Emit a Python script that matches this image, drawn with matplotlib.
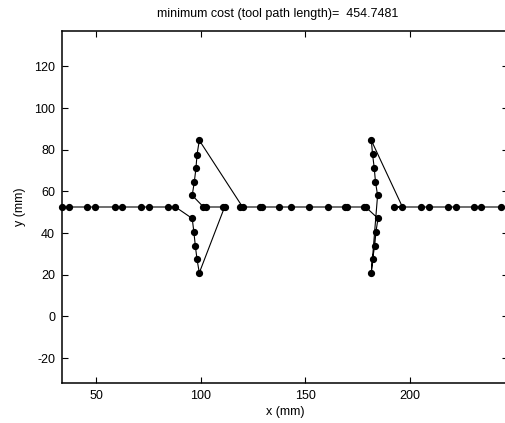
import matplotlib
matplotlib.use("Agg")
import matplotlib.pyplot as plt

plt.rcParams['font.family'] = ['Liberation Sans', 'DejaVu Sans']
plt.rcParams['axes.unicode_minus'] = False

# Tool path (visiting order), x and y in mm
path_x = [33.6, 37.1, 45.8, 49.5, 58.8, 62.1, 71.5, 75.0, 84.1, 87.9,
          95.9, 96.7, 97.4, 98.2, 99.3,
          111.4, 110.4, 102.5, 101.3,
          95.9, 96.9, 97.7, 98.2, 99.3,
          120.0, 118.9, 128.1, 129.3, 137.2, 143.2, 151.9, 160.7, 169.1, 169.9, 177.9, 178.9,
          184.8, 183.8, 183.2, 182.2, 181.6,
          184.6, 183.6, 183.0, 182.2, 181.6,
          196.5, 192.6, 205.5, 209.3, 218.1, 222.0, 230.7, 233.9, 243.6]
path_y = [52.5, 52.5, 52.5, 52.5, 52.5, 52.5, 52.5, 52.5, 52.5, 52.5,
          47.0, 40.5, 33.8, 27.4, 20.9,
          52.5, 52.5, 52.5, 52.5,
          58.1, 64.5, 71.2, 77.6, 84.5,
          52.5, 52.5, 52.5, 52.5, 52.5, 52.5, 52.5, 52.5, 52.5, 52.5, 52.5, 52.5,
          47.0, 40.5, 33.8, 27.4, 20.9,
          58.1, 64.5, 71.2, 77.8, 84.5,
          52.5, 52.5, 52.5, 52.5, 52.5, 52.5, 52.5, 52.5, 52.5]

x_ticks = [50, 100, 150, 200]
y_ticks = [-20, 0, 20, 40, 60, 80, 100, 120]
min_cost = 454.7481

fig = plt.figure(figsize=(5.05, 4.23), dpi=100)
ax = fig.add_axes([62/505, 40/423, 446/505, 352/423])

ax.plot(path_x, path_y, '-', color='black', linewidth=0.8,
        marker='o', markersize=4.2, markerfacecolor='black',
        markeredgecolor='black', clip_on=False)

ax.set_xlim(33.6, 247.0)
ax.set_ylim(-32, 137)
ax.set_xticks(x_ticks)
ax.set_yticks(y_ticks)
ax.tick_params(direction='in', length=4, width=0.8, top=True, right=True,
               labelsize=9, pad=5)
for s in ax.spines.values():
    s.set_linewidth(1.1)

ax.set_title('minimum cost (tool path length)=  %.4f' % min_cost, fontsize=9, pad=10, x=0.484)
ax.set_xlabel('x (mm)', fontsize=9, labelpad=3)
ax.set_ylabel('y (mm)', fontsize=9, labelpad=6)

fig.savefig('out.png', dpi=100)
